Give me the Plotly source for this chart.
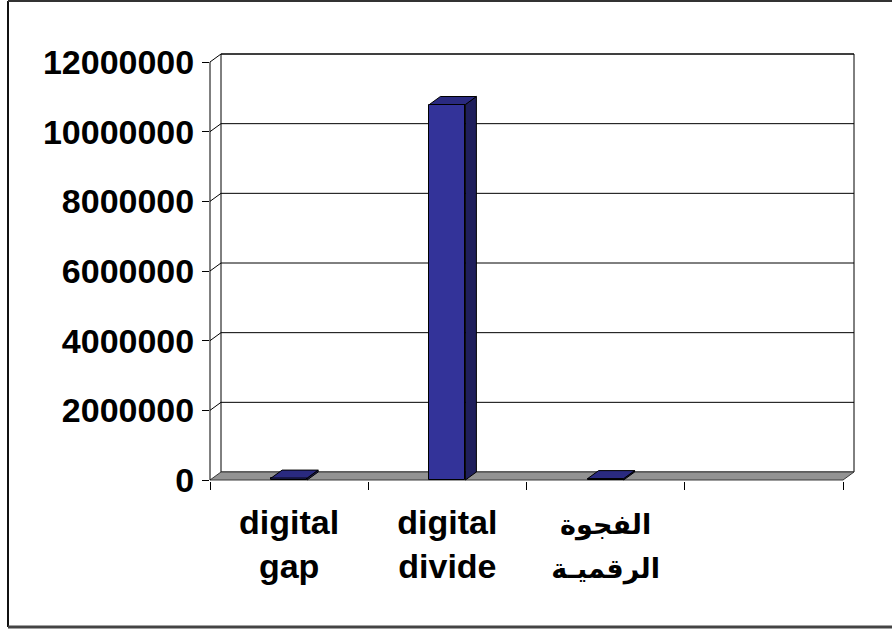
import plotly.graph_objects as go

# ---------------- data ----------------
arabic = '<span style="font-size:27px">{}</span>'
categories = ["digital<br>gap", "digital<br>divide",
              arabic.format("الفجوة") + "<br>" + arabic.format("الرقميـة")]
values = [55000, 10780000, 40000]
y_tick_values = [0, 2000000, 4000000, 6000000, 8000000, 10000000, 12000000]
y_tick_labels = ["0", "2000000", "4000000", "6000000", "8000000", "10000000", "12000000"]
n_slots = 4  # floor has room for four category slots; the last one is empty

# ---------------- geometry (pixels) ----------------
FIG_W, FIG_H = 892, 630
LEFT_PX = 210          # front-left corner of the floor
SLOT_PX = 158.25       # width of one category slot
ZERO_PX = 480          # y pixel of value 0 on the front plane
TOP_PX = 62            # y pixel of the top tick on the front plane
DEPTH_DX, DEPTH_DY = 11, 8   # oblique projection offset of the depth axis
BAR_PX = 36            # front face width of a column

y_top = y_tick_values[-1]
ux = 1.0 / SLOT_PX                       # x units per pixel
uy = y_top / (ZERO_PX - TOP_PX)          # y units per pixel

right_px = LEFT_PX + n_slots * SLOT_PX + DEPTH_DX + 2
top_px = TOP_PX - DEPTH_DY - 2
bottom_px = ZERO_PX + 1
ML, MR = LEFT_PX, FIG_W - right_px
MT, MB = top_px, FIG_H - bottom_px
PW, PH = right_px - LEFT_PX, bottom_px - top_px

x_min = -0.5
x_max = x_min + PW * ux
y_min = -(bottom_px - ZERO_PX) * uy
y_max = (ZERO_PX - top_px) * uy

DX, DY = DEPTH_DX * ux, DEPTH_DY * uy
BAR_W = BAR_PX * ux
x_end = x_min + n_slots

FRONT = "#333399"
TOP = "#2a2a80"
SIDE = "#1f1f5c"
FONT = "Liberation Sans, Arial, DejaVu Sans, sans-serif"


def px_to_paper(px, py):
    return (px - ML) / PW, 1 - (py - MT) / PH


fig = go.Figure()

# front faces of the columns
xs = list(range(len(categories)))
fig.add_trace(go.Bar(
    x=xs, y=values, width=BAR_W,
    marker=dict(color=FRONT, line=dict(color="#000000", width=1)),
    hoverinfo="skip", showlegend=False,
))

# top and side faces of each column
for x, v in zip(xs, values):
    x0, x1 = x - BAR_W / 2, x + BAR_W / 2
    fig.add_trace(go.Scatter(
        x=[x1, x1 + DX, x1 + DX, x1, x1], y=[0, DY, v + DY, v, 0],
        mode="lines", fill="toself", fillcolor=SIDE,
        line=dict(color="#000000", width=1), hoverinfo="skip", showlegend=False,
    ))
    fig.add_trace(go.Scatter(
        x=[x0, x1, x1 + DX, x0 + DX, x0], y=[v, v, v + DY, v + DY, v],
        mode="lines", fill="toself", fillcolor=TOP,
        line=dict(color="#000000", width=1), hoverinfo="skip", showlegend=False,
    ))

# invisible trace so the label axis is laid out
fig.add_trace(go.Scatter(x=[0], y=[0], xaxis="x2", mode="markers",
                         marker=dict(opacity=0), hoverinfo="skip", showlegend=False))

shapes = []
# back wall
shapes.append(dict(type="rect", xref="x", yref="y", layer="below",
                   x0=x_min + DX, x1=x_end + DX, y0=DY, y1=y_top + DY,
                   fillcolor="#ffffff", line=dict(color="#000000", width=1)))
# gridlines across the side and back walls
for v in y_tick_values[1:]:
    shapes.append(dict(type="line", xref="x", yref="y", layer="below",
                       x0=x_min + DX, x1=x_end + DX, y0=v + DY, y1=v + DY,
                       line=dict(color="#000000", width=1)))
    shapes.append(dict(type="line", xref="x", yref="y", layer="below",
                       x0=x_min, x1=x_min + DX, y0=v, y1=v + DY,
                       line=dict(color="#000000", width=1)))
# floor
shapes.append(dict(type="path", xref="x", yref="y", layer="below",
                   path=f"M {x_min},0 L {x_end},0 L {x_end + DX},{DY} L {x_min + DX},{DY} Z",
                   fillcolor="#939393", line=dict(color="#3a3a3a", width=1)))
# front value axis
shapes.append(dict(type="line", xref="paper", yref="y", layer="above",
                   x0=0, x1=0, y0=0, y1=y_top,
                   line=dict(color="#000000", width=1)))

# chart frame
fx0, fy0 = px_to_paper(8, 1)
fx1, fy1 = px_to_paper(FIG_W + 5, 627)
shapes.append(dict(type="line", xref="paper", yref="paper", x0=fx0, x1=fx0, y0=fy0, y1=fy1,
                   line=dict(color="#111111", width=2)))
shapes.append(dict(type="line", xref="paper", yref="paper", x0=fx0, x1=fx1, y0=fy0, y1=fy0,
                   line=dict(color="#333333", width=2)))
shapes.append(dict(type="line", xref="paper", yref="paper", x0=fx0, x1=fx1, y0=fy1, y1=fy1,
                   line=dict(color="#444444", width=3)))

fig.update_layout(
    width=FIG_W, height=FIG_H,
    margin=dict(l=ML, r=MR, t=MT, b=MB, pad=0),
    paper_bgcolor="#ffffff", plot_bgcolor="rgba(0,0,0,0)",
    bargap=0, showlegend=False,
    shapes=shapes,
    xaxis=dict(
        range=[x_min, x_max], showgrid=False, zeroline=False, showline=False,
        tickmode="array", tickvals=[x_min + i for i in range(n_slots + 1)],
        ticks="outside", ticklen=8, tickwidth=1, tickcolor="#000000",
        showticklabels=False, fixedrange=True,
    ),
    xaxis2=dict(
        range=[x_min, x_max], overlaying="x", anchor="y", side="bottom",
        showgrid=False, zeroline=False, showline=False,
        tickmode="array", tickvals=xs, ticktext=categories, ticks="",
        ticklabelstandoff=18,
        tickfont=dict(family=FONT, size=34, color="#000000", weight="bold"),
        fixedrange=True,
    ),
    yaxis=dict(
        range=[y_min, y_max], showgrid=False, zeroline=False, showline=False,
        tickmode="array", tickvals=y_tick_values, ticktext=y_tick_labels,
        ticks="outside", ticklen=7, tickwidth=1, tickcolor="#000000",
        ticklabelstandoff=1,
        tickfont=dict(family=FONT, size=34, color="#000000", weight="bold"),
        fixedrange=True,
    ),
)

fig.write_html("out.html")
